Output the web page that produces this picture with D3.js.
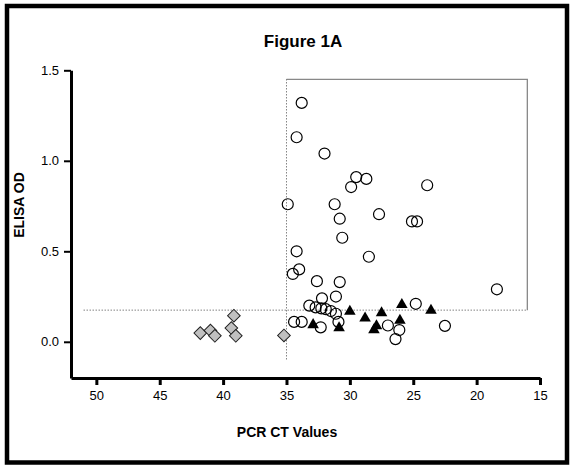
<!DOCTYPE html>
<html lang="en">
<head>
  <meta charset="UTF-8">
  <title>Figure 1A</title>
  <style>
    body {
      margin: 0;
      background: #fff;
    }
    * {
      font-family: "Liberation Sans", Arial, sans-serif;
    }
    .axis text {
      font-size: 13px;
      fill: #000;
    }
    .axis path, .axis line {
      stroke: #000;
    }
  </style>
</head>
<body>
<div id="chart"></div>
<script src="https://d3js.org/d3.v7.min.js"></script>
<script type="text/javascript">

  // PCR CT value / ELISA OD pairs
  var circleCT = [33.8, 34.2, 32.0, 29.5, 28.7, 29.9, 23.9, 34.9, 31.2, 30.8,
                  27.7, 25.1, 24.7, 30.6, 34.2, 28.5, 34.0, 34.5, 32.6, 30.8,
                  18.4, 32.2, 31.1, 24.8, 33.2, 32.7, 32.25, 31.9, 31.5, 31.1,
                  30.9, 32.3, 34.4, 33.8, 27.0, 26.1, 26.4, 22.5];
  var circleOD = [1.32, 1.13, 1.04, 0.91, 0.90, 0.855, 0.865, 0.76, 0.76, 0.68,
                  0.705, 0.665, 0.665, 0.575, 0.50, 0.47, 0.40, 0.375, 0.335, 0.33,
                  0.29, 0.24, 0.25, 0.21, 0.20, 0.19, 0.185, 0.18, 0.17, 0.155,
                  0.11, 0.08, 0.11, 0.11, 0.09, 0.065, 0.015, 0.088];

  var triangleCT = [30.0, 28.8, 27.5, 25.9, 23.6, 32.9, 30.85, 27.9, 28.1, 26.05];
  var triangleOD = [0.168, 0.13, 0.16, 0.205, 0.173, 0.094, 0.077, 0.088, 0.066, 0.118];

  var diamondCT = [41.8, 41.0, 40.65, 39.15, 39.35, 39.0, 35.2];
  var diamondOD = [0.048, 0.062, 0.033, 0.144, 0.076, 0.033, 0.035];

  var xTicks = [50, 45, 40, 35, 30, 25, 20, 15];
  var yTicks = [0.0, 0.5, 1.0, 1.5];

  // cut-off lines and the positive box
  var ctCutoff = 35;
  var odCutoff = 0.175;
  var ctBoxEnd = 16;
  var odBoxTop = 1.45;

  var w = 570;
  var h = 465;

  var svg = d3.select("#chart")
          .append("svg")
          .attr("width", w)
          .attr("height", h);

  svg.append("rect")
          .attr("width", w)
          .attr("height", h)
          .attr("fill", "#fff");

  // frame
  svg.append("rect")
          .attr("x", 7)
          .attr("y", 6)
          .attr("width", 560)
          .attr("height", 456.5)
          .attr("fill", "none")
          .attr("stroke", "#000")
          .attr("stroke-width", 4.5);

  const xScale = d3.scaleLinear()
          .domain([52, 15])
          .range([71, 540]);

  const yScale = d3.scaleLinear()
          .domain([-0.2, 1.5])
          .range([378, 70.3]);

  // dotted cut-off lines
  svg.append("line")
          .attr("x1", xScale(51)).attr("x2", xScale(ctBoxEnd))
          .attr("y1", yScale(odCutoff)).attr("y2", yScale(odCutoff))
          .attr("stroke", "#444")
          .attr("stroke-width", 1)
          .attr("stroke-dasharray", "1,2");

  svg.append("line")
          .attr("x1", xScale(ctCutoff)).attr("x2", xScale(ctCutoff))
          .attr("y1", yScale(odBoxTop)).attr("y2", yScale(-0.1))
          .attr("stroke", "#444")
          .attr("stroke-width", 1)
          .attr("stroke-dasharray", "1,2");

  // solid top / right edges of the box
  svg.append("path")
          .attr("d", `M${xScale(ctCutoff)},${yScale(odBoxTop)}H${xScale(ctBoxEnd)}V${yScale(odCutoff)}`)
          .attr("fill", "none")
          .attr("stroke", "#888")
          .attr("stroke-width", 1.3);

  // axes
  const xAxis = d3.axisBottom(xScale)
          .tickValues(xTicks)
          .tickSizeInner(7)
          .tickSizeOuter(0)
          .tickPadding(6);

  const yAxis = d3.axisLeft(yScale)
          .tickValues(yTicks)
          .tickFormat(d3.format(".1f"))
          .tickSizeInner(7)
          .tickSizeOuter(0)
          .tickPadding(5);

  var gx = svg.append("g")
          .attr("class", "axis")
          .attr("transform", "translate(0, 378)")
          .call(xAxis);
  gx.select(".domain").attr("stroke-width", 3);
  gx.selectAll(".tick line").attr("stroke-width", 3);

  var gy = svg.append("g")
          .attr("class", "axis")
          .attr("transform", "translate(71, 0)")
          .call(yAxis);
  gy.select(".domain").attr("stroke-width", 3);
  gy.selectAll(".tick line").attr("stroke-width", 2);

  // diamonds
  svg.append("g")
          .selectAll("path")
          .data(diamondCT)
          .enter()
          .append("path")
          .attr("d", d3.symbol().type(d3.symbolSquare).size(80))
          .attr("transform", (d, i) => `translate(${xScale(d)}, ${yScale(diamondOD[i])}) rotate(45)`)
          .attr("fill", "#c0c0c0")
          .attr("stroke", "#222")
          .attr("stroke-width", 1);

  // circles
  svg.append("g")
          .selectAll("circle")
          .data(circleCT)
          .enter()
          .append("circle")
          .attr("cx", d => xScale(d))
          .attr("cy", (d, i) => yScale(circleOD[i]))
          .attr("r", 5.5)
          .attr("fill", "none")
          .attr("stroke", "#000")
          .attr("stroke-width", 1.2);

  // triangles
  svg.append("g")
          .selectAll("path")
          .data(triangleCT)
          .enter()
          .append("path")
          .attr("d", d3.symbol().type(d3.symbolTriangle).size(58))
          .attr("transform", (d, i) => `translate(${xScale(d)}, ${yScale(triangleOD[i])})`)
          .attr("fill", "#000");

  // titles
  svg.append("text")
          .attr("x", 303)
          .attr("y", 47)
          .attr("text-anchor", "middle")
          .style("font-size", "17px")
          .style("font-weight", "bold")
          .text("Figure 1A");

  svg.append("text")
          .attr("x", 287)
          .attr("y", 437)
          .attr("text-anchor", "middle")
          .style("font-size", "14px")
          .style("font-weight", "bold")
          .text("PCR CT Values");

  svg.append("text")
          .attr("transform", "translate(24, 205) rotate(-90)")
          .attr("text-anchor", "middle")
          .style("font-size", "14px")
          .style("font-weight", "bold")
          .text("ELISA OD");

</script>
</body>
</html>
